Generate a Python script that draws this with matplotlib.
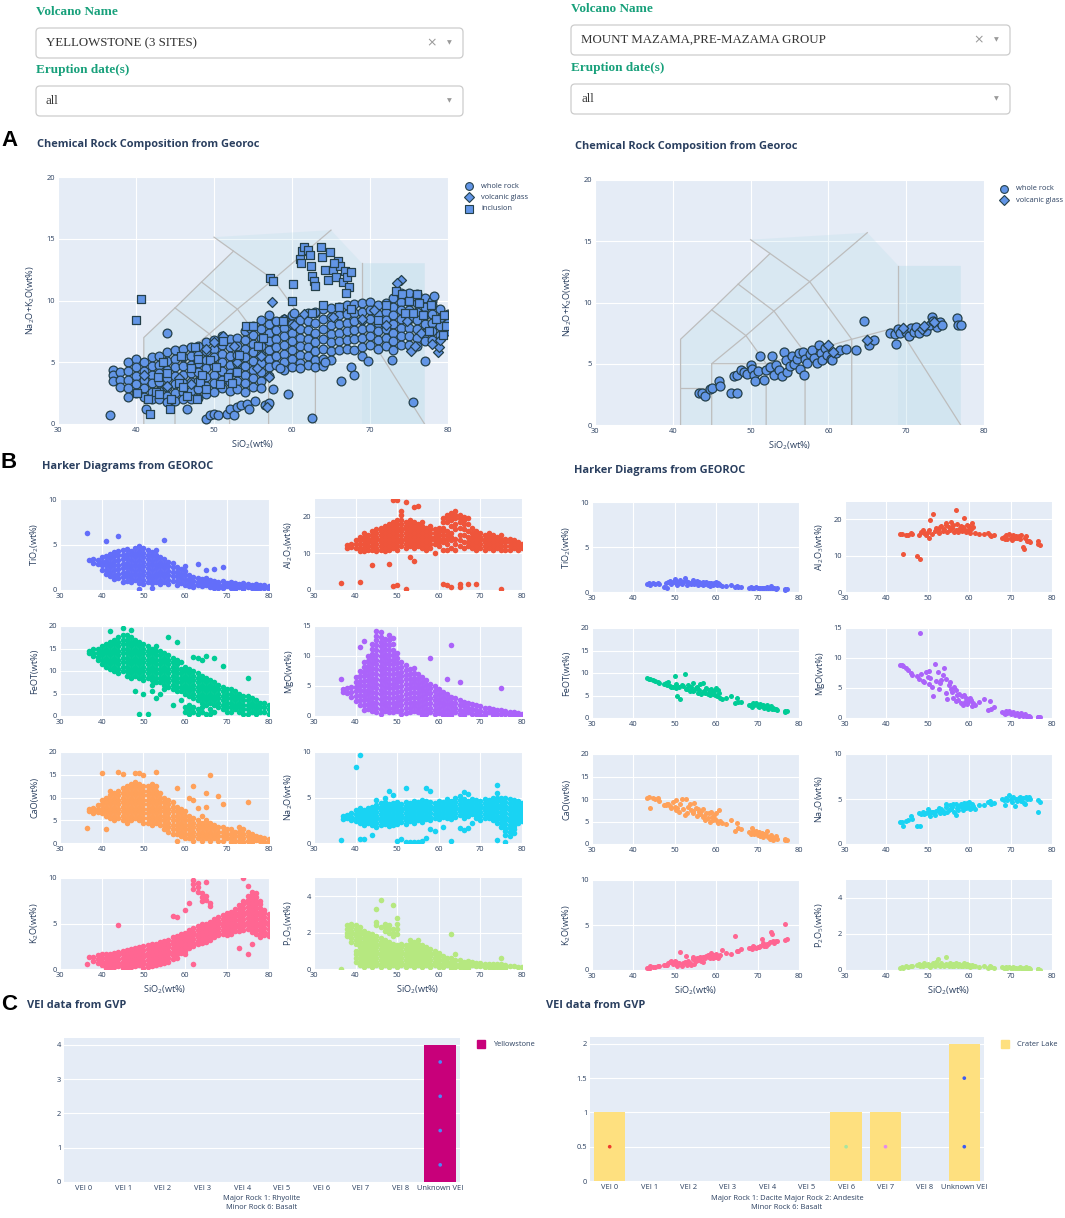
import matplotlib
matplotlib.use('Agg')
import matplotlib.pyplot as plt
from matplotlib.patches import FancyBboxPatch, Polygon
from matplotlib.lines import Line2D
from matplotlib.transforms import IdentityTransform

plt.rcParams['font.family'] = ['Open Sans', 'DejaVu Sans']
plt.rcParams['mathtext.fontset'] = 'custom'
plt.rcParams['mathtext.rm'] = 'Open Sans'
plt.rcParams['mathtext.it'] = 'Open Sans:italic'
plt.rcParams['mathtext.bf'] = 'Open Sans:bold'
plt.rcParams['mathtext.default'] = 'rm'

# ---------------- DATA ----------------
LEFT_VOLCANO = 'YELLOWSTONE (3 SITES)'
RIGHT_VOLCANO = 'MOUNT MAZAMA,PRE-MAZAMA GROUP'
ERUPTION = 'all'

# TAS field boundaries (SiO2, Na2O+K2O)
TAS_LINES = [
    [(41, 0), (41, 7), (45, 9.4), (48.4, 11.5), (52.5, 14), (50, 15.13)],
    [(52.5, 14), (57.6, 11.7), (65, 15.7)],
    [(41, 3), (45, 3)],
    [(45, 0), (45, 5), (52, 5), (57, 5.9), (63, 7), (69, 8), (77, 0)],
    [(45, 5), (49.4, 7.3), (53, 9.3), (57.6, 11.7), (63, 7), (63, 0)],
    [(45, 9.4), (49.4, 7.3), (52, 5), (52, 0)],
    [(48.4, 11.5), (53, 9.3), (57, 5.9), (57, 0)],
    [(69, 8), (69, 13)],
]
TAS_FIELD = [(41, 0), (41, 7), (45, 9.4), (48.4, 11.5), (52.5, 14), (50, 15.13),
             (65, 15.7), (69, 13), (77, 13), (77, 0)]
TAS_RHY = [(69, 0), (69, 13), (77, 13), (77, 0)]

# Yellowstone TAS: whole rock (SiO2 column -> Na2O+K2O values)
YS_WR = {37: [4.4, 4.0, 3.5], 38: [4.2, 3.6, 3.0], 39: [5.0, 4.3, 3.6, 2.9, 2.2],
         40: [5.3, 4.6, 3.9, 3.2, 2.5], 41: [5.0, 4.3, 3.6, 2.9, 2.2],
         42: [5.4, 4.7, 4.0, 3.3, 2.6, 2.0], 43: [5.5, 4.8, 4.1, 3.4, 2.7, 2.0],
         44: [5.8, 5.1, 4.4, 3.7, 3.0, 2.3, 1.8], 45: [6.0, 5.3, 4.6, 3.9, 3.2, 2.5, 1.9],
         46: [6.1, 5.4, 4.7, 4.0, 3.3, 2.6, 2.0], 47: [6.2, 5.5, 4.8, 4.1, 3.4, 2.7, 2.0],
         48: [6.3, 5.6, 4.9, 4.2, 3.5, 2.8, 2.1], 49: [6.6, 5.9, 5.2, 4.5, 3.8, 3.1, 2.4],
         50: [6.8, 6.1, 5.4, 4.7, 4.0, 3.3, 2.6], 51: [7.1, 6.4, 5.7, 5.0, 4.3, 3.6, 2.9],
         52: [6.9, 6.2, 5.5, 4.8, 4.1, 3.4, 2.7], 53: [7.0, 6.3, 5.6, 4.9, 4.2, 3.5, 2.8],
         54: [7.5, 6.8, 6.1, 5.4, 4.7, 4.0, 3.3, 2.6], 55: [7.9, 7.2, 6.5, 5.8, 5.1, 4.4, 3.7, 3.0],
         56: [8.4, 7.7, 7.0, 6.3, 5.6, 4.9, 4.2, 3.5, 2.9], 57: [8.8, 8.1, 7.4, 6.7, 6.0, 5.3, 4.6, 3.9],
         58: [8.3, 7.6, 6.9, 6.2, 5.5, 4.8], 59: [8.5, 7.8, 7.1, 6.4, 5.7, 5.0, 4.4],
         60: [8.8, 8.1, 7.4, 6.7, 6.0, 5.3, 4.6], 61: [8.4, 7.7, 7.0, 6.3, 5.6, 4.9],
         62: [9.0, 8.3, 7.6, 6.9, 6.2, 5.5, 4.8], 63: [9.0, 8.2, 7.4, 6.6, 5.9, 5.2, 4.6],
         64: [9.3, 8.5, 7.7, 6.9, 6.1, 5.3, 4.7], 65: [9.4, 8.7, 8.0, 7.3, 6.6, 5.9, 5.2],
         66: [9.5, 8.8, 8.1, 7.4, 6.7, 6.0], 67: [9.6, 8.9, 8.2, 7.5, 6.8, 6.1],
         68: [9.7, 9.0, 8.3, 7.6, 6.9, 6.0], 69: [9.8, 9.1, 8.4, 7.7, 7.0, 6.2, 5.5],
         70: [9.9, 9.2, 8.5, 7.8, 7.1, 6.4], 71: [9.6, 8.9, 8.2, 7.5, 6.8, 6.1],
         72: [9.8, 9.1, 8.4, 7.7, 7.0, 6.3], 73: [10.2, 9.5, 8.8, 8.1, 7.4, 6.7, 6.0],
         74: [10.6, 9.9, 9.2, 8.5, 7.8, 7.1, 6.4], 75: [10.6, 9.9, 9.2, 8.5, 7.8, 7.1, 6.4],
         76: [10.5, 9.8, 9.1, 8.4, 7.7, 7.0, 6.3], 77: [10.2, 9.5, 8.8, 8.1, 7.4, 6.7],
         78: [10.0, 9.6, 8.9, 8.2, 7.5, 6.8], 79: [9.3, 8.6, 7.9, 7.2], 80: [8.9, 8.2, 7.5]}
YS_WR_OUT = [(36.7, 0.7), (41.3, 1.2), (44.0, 7.4), (46.5, 1.2), (49.0, 0.4), (49.5, 0.7),
             (50.0, 0.8), (50.5, 0.7), (51.7, 0.8), (52.0, 1.2), (52.5, 0.7), (53.0, 1.4),
             (53.5, 1.5), (54.2, 1.6), (54.5, 1.2), (55.3, 1.9), (56.5, 1.5), (57.0, 1.7),
             (57.5, 2.8), (59.5, 2.4), (62.5, 0.5), (66.3, 3.5), (67.5, 4.6), (68.0, 4.0),
             (69.8, 5.1), (72.8, 5.2), (75.5, 1.8), (77.0, 5.1), (78.2, 10.4), (58.5, 4.5),
             (61.0, 4.5), (64.2, 5.0), (63.0, 9.1), (60.2, 9.0)]
YS_GLASS = [(57.4, 9.9), (60.2, 8.0), (74.0, 11.7), (73.5, 11.4), (75.3, 5.9), (75.8, 6.3),
            (78.7, 5.8), (78.8, 6.2), (56.8, 1.4), (51.2, 7.1), (50.0, 6.6), (54.5, 7.8),
            (59.0, 8.5), (69.0, 8.5), (72.0, 8.0), (74.8, 8.3), (76.5, 7.4), (78.0, 6.5),
            (79.0, 6.8), (45.5, 3.7), (47.0, 3.2), (53.0, 5.0), (55.5, 4.5), (57.0, 3.8),
            (56.0, 5.5), (65.2, 8.7), (70.5, 9.2), (49.0, 6.1), (52.5, 6.3), (44.0, 3.1),
            (41.0, 4.0), (61.5, 8.9)]
YS_INCL = [(40.6, 10.1), (40.0, 8.4), (41.8, 0.8), (44.3, 1.2), (40.1, 2.5), (41.5, 2.0),
           (42.5, 2.6), (42.8, 3.8), (43.5, 5.0), (44.0, 4.1), (45.5, 3.3), (45.8, 5.5),
           (46.5, 2.3), (47.0, 4.5), (47.5, 6.2), (48.2, 3.4), (48.5, 4.0), (49.0, 2.8),
           (49.5, 5.2), (50.2, 4.6), (50.8, 3.2), (51.2, 6.7), (51.8, 3.8), (52.3, 3.3),
           (53.2, 5.6), (54.1, 7.9), (55.0, 7.9), (55.6, 6.3), (56.3, 7.0), (57.2, 11.8),
           (57.6, 11.6), (60.1, 11.3), (60.0, 10.0), (61.0, 13.4), (61.3, 14.0), (61.5, 14.3),
           (61.2, 13.0), (62.0, 14.1), (62.3, 13.7), (62.4, 12.8), (62.6, 12.0), (62.8, 11.6),
           (63.0, 11.2), (63.7, 14.3), (63.9, 13.5), (64.2, 12.5), (64.6, 11.7), (64.9, 13.9),
           (65.3, 12.5), (65.6, 11.9), (65.9, 13.2), (66.2, 12.8), (66.5, 11.5), (66.8, 12.4),
           (67.1, 11.9), (67.3, 11.1), (67.6, 12.3), (66.9, 10.6), (65.4, 13.0), (64.0, 9.6),
           (66.0, 9.5), (67.5, 9.3), (72.0, 9.6), (73.3, 10.8), (74.1, 10.5), (75.0, 10.0),
           (75.5, 9.0), (76.0, 10.5), (76.8, 8.8), (77.5, 7.5), (78.5, 8.5), (79.3, 7.2),
           (79.5, 8.8), (74.5, 9.0), (76.3, 9.8), (46.0, 3.0), (47.8, 2.0), (44.5, 2.0),
           (43.0, 2.4), (48.0, 5.3), (53.0, 4.2), (58.9, 8.3), (62.5, 9.0), (71.0, 8.4),
           (77.8, 9.6), (79.8, 7.9)]

# Yellowstone Harker diagrams (SiO2 column -> oxide values)
YS_TIO2 = {36.5: [6.3], 37: [3.3], 38: [3.4, 3.0], 39: [3.3, 2.9], 40: [3.6, 3.1, 2.7, 2.2],
           41: [3.7, 3.2, 2.7, 2.2, 1.8, 5.4], 42: [4.0, 3.5, 3.0, 2.5, 2.0, 1.5],
           43: [4.2, 3.7, 3.2, 2.7, 2.2, 1.7, 1.2], 44: [4.3, 3.8, 3.3, 2.8, 2.3, 1.8, 1.3, 5.9],
           45: [4.4, 3.9, 3.4, 2.9, 2.4, 1.9, 1.4, 0.9], 46: [4.5, 4.0, 3.5, 3.0, 2.5, 2.0, 1.5, 1.0],
           47: [4.3, 3.8, 3.3, 2.8, 2.3, 1.8, 1.3, 0.9], 48: [4.6, 4.1, 3.6, 3.1, 2.6, 2.1, 1.6, 1.1],
           49: [4.8, 4.3, 3.8, 3.3, 2.8, 2.3, 1.8, 1.3, 0.8, 0.1],
           50: [4.6, 4.1, 3.6, 3.1, 2.6, 2.1, 1.6, 1.1, 0.7], 51: [4.4, 3.9, 3.4, 2.9, 2.4, 1.9, 1.4, 0.9],
           52: [4.2, 3.7, 3.2, 2.7, 2.2, 1.7, 1.2, 0.8, 0.2], 53: [4.4, 3.9, 3.4, 2.9, 2.4, 1.9, 1.4, 0.9],
           54: [3.6, 3.1, 2.6, 2.1, 1.6, 1.1, 0.7], 55: [3.4, 2.9, 2.4, 1.9, 1.4, 0.9, 5.5],
           56: [3.1, 2.6, 2.1, 1.6, 1.1, 0.7], 57: [3.0, 2.5, 2.0, 1.5, 1.0], 58: [2.5, 2.0, 1.5, 1.0, 0.6],
           59: [2.3, 1.8, 1.3, 0.8], 60: [2.6, 2.1, 1.6, 1.1, 0.6], 61: [1.6, 1.2, 0.8, 0.4],
           62: [1.4, 1.0, 0.6, 0.3], 63: [1.3, 0.9, 0.5, 2.9], 64: [1.2, 0.8, 0.4], 65: [1.3, 0.9, 0.5, 2.2],
           66: [1.1, 0.7, 0.3], 67: [1.0, 0.6, 0.2, 2.3], 68: [0.9, 0.5, 0.2], 69: [1.0, 0.6, 0.2, 2.5],
           70: [0.8, 0.4], 71: [0.9, 0.5, 0.2], 72: [0.8, 0.4, 0.1], 73: [0.7, 0.3], 74: [0.8, 0.4, 0.1],
           75: [0.7, 0.3], 76: [0.6, 0.2], 77: [0.7, 0.3, 0.1], 78: [0.5, 0.2], 79: [0.5, 0.2], 80: [0.4, 0.1]}
YS_AL2O3 = {36.5: [1.8], 38: [12.2, 11.5], 39: [12.6, 11.6], 40: [13.5, 12.5, 11.5],
            41: [14.5, 13.5, 12.5, 11.5, 10.5, 2.3], 42: [15.5, 14.5, 13.5, 12.5, 11.5, 10.5],
            43: [15.0, 14.0, 13.0, 12.0, 11.0], 44: [16.0, 15.0, 14.0, 13.0, 12.0, 11.0, 6.8],
            45: [16.5, 15.5, 14.5, 13.5, 12.5, 11.5, 10.5], 46: [17.0, 16.0, 15.0, 14.0, 13.0, 12.0, 11.0],
            47: [17.5, 16.5, 15.5, 14.5, 13.5, 12.5, 11.5, 10.5],
            48: [18.0, 17.0, 16.0, 15.0, 14.0, 13.0, 12.0, 11.0, 7.2],
            49: [18.5, 17.5, 16.5, 15.5, 14.5, 13.5, 12.5, 11.5, 1.1, 24.6],
            50: [19.0, 18.0, 17.0, 16.0, 15.0, 14.0, 13.0, 12.0, 11.0, 1.3, 24.4],
            51: [20.5, 19.0, 18.0, 17.0, 16.0, 15.0, 14.0, 13.0, 12.0, 21.5],
            52: [18.5, 17.5, 16.5, 15.5, 14.5, 13.5, 12.5, 11.5, 0.3, 24.0],
            53: [19.0, 18.0, 17.0, 16.0, 15.0, 14.0, 13.0, 12.0, 9.0],
            54: [18.5, 17.5, 16.5, 15.5, 14.5, 13.5, 12.5, 11.5, 7.9, 22.7],
            55: [18.0, 17.0, 16.0, 15.0, 14.0, 13.0, 12.0, 22.9],
            56: [18.5, 17.5, 16.5, 15.5, 14.5, 13.5, 12.5, 11.5],
            57: [17.0, 16.0, 15.0, 14.0, 13.0, 12.0, 10.8], 58: [17.5, 16.5, 15.5, 14.5, 13.5, 12.5, 11.5],
            59: [16.5, 15.5, 14.5, 13.5, 12.5, 10.0], 60: [17.0, 16.0, 15.0, 14.0, 13.0, 12.0],
            61: [19.5, 18.5, 17.0, 16.0, 15.0, 14.0, 13.0, 11.0, 1.7],
            62: [20.5, 19.5, 18.5, 16.0, 15.0, 14.0, 12.5, 11.0, 1.4],
            63: [21.0, 20.0, 19.0, 17.5, 15.5, 14.5, 13.5, 11.5, 0.7],
            64: [21.5, 20.5, 19.5, 18.0, 16.5, 14.0, 12.5, 11.0],
            65: [20.5, 19.5, 18.5, 17.0, 15.0, 13.5, 12.0, 1.5, 0.9],
            66: [20.0, 19.0, 18.0, 16.5, 15.0, 13.0, 11.5], 67: [19.5, 18.0, 16.0, 14.5, 13.0, 12.0, 1.6],
            68: [17.0, 15.5, 14.5, 13.5, 12.5, 11.5], 69: [16.0, 15.0, 14.0, 13.0, 12.0, 11.0, 1.5],
            70: [15.5, 14.5, 13.5, 12.5, 11.5], 71: [15.0, 14.0, 13.0, 12.0, 11.0],
            72: [15.5, 14.5, 13.5, 12.5, 11.5], 73: [15.0, 14.0, 13.0, 12.0, 11.0],
            74: [14.5, 13.5, 12.5, 11.5], 75: [15.0, 14.0, 13.0, 12.0, 11.0, 0.4],
            76: [14.0, 13.0, 12.0, 11.0], 77: [14.0, 13.0, 12.0, 11.0], 78: [13.5, 12.5, 11.5],
            79: [13.0, 12.0, 11.0], 80: [12.5, 11.5]}
YS_FEOT = {37: [14.5, 14.0], 38: [14.8, 14.0, 13.3], 39: [14.8, 14.0, 13.2, 12.5],
           40: [15.5, 14.5, 13.5, 12.5, 11.5], 41: [16.0, 15.0, 14.0, 13.0, 12.0, 11.0],
           42: [16.5, 15.5, 14.5, 13.5, 12.5, 11.5, 10.5, 19.0],
           43: [17.0, 16.0, 15.0, 14.0, 13.0, 12.0, 11.0, 10.0],
           44: [17.5, 16.5, 15.5, 14.5, 13.5, 12.5, 11.5, 10.5, 9.5],
           45: [18.0, 17.0, 16.0, 15.0, 14.0, 13.0, 12.0, 11.0, 10.0, 19.5],
           46: [18.0, 17.0, 16.0, 15.0, 14.0, 13.0, 12.0, 11.0, 10.0, 9.0],
           47: [17.5, 16.5, 15.5, 14.5, 13.5, 12.5, 11.5, 10.5, 9.5, 8.5, 19.2],
           48: [17.0, 16.0, 15.0, 14.0, 13.0, 12.0, 11.0, 10.0, 9.0, 5.5],
           49: [16.5, 15.5, 14.5, 13.5, 12.5, 11.5, 10.5, 9.5, 8.5, 0.5],
           50: [16.0, 15.0, 14.0, 13.0, 12.0, 11.0, 10.0, 9.0, 8.0, 5.0],
           51: [15.5, 14.5, 13.5, 12.5, 11.5, 10.5, 9.5, 8.5, 0.5],
           52: [15.0, 14.0, 13.0, 12.0, 11.0, 10.0, 9.0, 8.0, 7.0, 5.5],
           53: [15.5, 14.5, 13.5, 12.5, 11.5, 10.5, 9.5, 8.5, 7.5, 4.0],
           54: [14.5, 13.5, 12.5, 11.5, 10.5, 9.5, 8.5, 7.5, 5.0],
           55: [14.0, 13.0, 12.0, 11.0, 10.0, 9.0, 8.0, 7.0, 6.0],
           56: [13.5, 12.5, 11.5, 10.5, 9.5, 8.5, 7.5, 6.5, 17.5],
           57: [13.0, 12.0, 11.0, 10.0, 9.0, 8.0, 7.0, 6.0, 2.5],
           58: [12.5, 11.5, 10.5, 9.5, 8.5, 7.5, 6.5, 5.5, 16.5],
           59: [12.0, 10.5, 9.5, 8.5, 7.5, 6.5, 5.5, 3.5],
           60: [11.0, 10.0, 9.0, 8.0, 7.0, 6.0, 5.0, 2.0, 1.0],
           61: [10.5, 9.5, 8.5, 7.5, 6.5, 5.5, 4.5, 2.5, 1.5, 0.5],
           62: [13.2, 10.0, 9.0, 8.0, 7.0, 6.0, 5.0, 4.0, 2.0, 1.0],
           63: [13.0, 9.5, 8.5, 7.5, 6.5, 5.5, 4.5, 3.5, 1.5, 0.5],
           64: [12.5, 9.0, 8.0, 7.0, 6.0, 5.0, 4.0, 3.0, 2.0, 1.0],
           65: [13.4, 8.5, 7.5, 6.5, 5.5, 4.5, 3.5, 2.5, 0.5],
           66: [8.0, 7.0, 6.0, 5.0, 4.0, 3.0, 1.5, 0.5], 67: [13.0, 7.5, 6.5, 5.5, 4.5, 3.5, 2.5, 1.0],
           68: [7.0, 6.0, 5.0, 4.0, 3.0, 2.0], 69: [6.5, 5.5, 4.5, 3.5, 2.5, 1.5, 11.2],
           70: [6.0, 5.0, 4.0, 3.0, 2.0, 1.0], 71: [6.0, 5.0, 4.0, 3.0, 2.0, 1.0],
           72: [5.5, 4.5, 3.5, 2.5, 1.5], 73: [5.0, 4.0, 3.0, 2.0, 1.0], 74: [4.5, 3.5, 2.5, 1.5, 0.5],
           75: [4.5, 3.5, 2.5, 1.5, 0.5, 8.5], 76: [4.0, 3.0, 2.0, 1.0], 77: [3.5, 2.5, 1.5, 0.5],
           78: [3.0, 2.0, 1.0], 79: [3.0, 2.0, 1.0], 80: [2.5, 1.5, 0.5]}
YS_MGO = {36.5: [6.1], 37: [4.5, 4.0], 38: [4.6, 3.8], 39: [4.8, 4.0, 3.2],
          40: [6.5, 5.7, 4.9, 4.1, 3.3, 2.5], 41: [11.5, 7.5, 6.7, 5.9, 5.1, 4.3, 3.5, 2.7, 1.9],
          42: [12.5, 9.0, 8.2, 7.4, 6.6, 5.8, 5.0, 4.2, 3.4, 2.6, 1.8, 1.0],
          43: [10.0, 9.2, 8.4, 7.6, 6.8, 6.0, 5.2, 4.4, 3.6, 2.8, 2.0, 1.2],
          44: [12.0, 11.2, 10.4, 9.6, 8.8, 8.0, 7.2, 6.4, 5.6, 4.8, 4.0, 3.2, 2.4, 1.6, 0.8],
          45: [14.2, 13.4, 12.6, 11.8, 11.0, 10.2, 9.4, 8.6, 7.8, 7.0, 6.2, 5.4, 4.6, 3.8, 3.0, 2.2, 1.4, 0.6],
          46: [14.0, 13.2, 12.4, 11.6, 10.8, 10.0, 9.2, 8.4, 7.6, 6.8, 6.0, 5.2, 4.4, 3.6, 2.8, 2.0, 1.2, 0.4],
          47: [12.8, 12.0, 11.2, 10.4, 9.6, 8.8, 8.0, 7.2, 6.4, 5.6, 4.8, 4.0, 3.2, 2.4, 1.6, 0.8],
          48: [13.5, 12.6, 11.8, 11.0, 10.2, 9.4, 8.6, 7.8, 7.0, 6.2, 5.4, 4.6, 3.8, 3.0, 2.2, 1.4, 0.6],
          49: [13.0, 12.0, 11.0, 10.2, 9.4, 8.6, 7.8, 7.0, 6.2, 5.4, 4.6, 3.8, 3.0, 2.2, 1.4, 0.6],
          50: [10.5, 9.6, 8.8, 8.0, 7.2, 6.4, 5.6, 4.8, 4.0, 3.2, 2.4, 1.6, 0.8],
          51: [9.0, 8.2, 7.4, 6.6, 5.8, 5.0, 4.2, 3.4, 2.6, 1.8, 1.0, 0.3],
          52: [8.5, 7.7, 6.9, 6.1, 5.3, 4.5, 3.7, 2.9, 2.1, 1.3, 0.5],
          53: [7.8, 7.0, 6.2, 5.4, 4.6, 3.8, 3.0, 2.2, 1.4, 0.6],
          54: [8.0, 7.2, 6.4, 5.6, 4.8, 4.0, 3.2, 2.4, 1.6, 0.8],
          55: [7.0, 6.2, 5.4, 4.6, 3.8, 3.0, 2.2, 1.4, 0.6],
          56: [6.5, 5.7, 4.9, 4.1, 3.3, 2.5, 1.7, 0.9, 0.2], 57: [6.0, 5.2, 4.4, 3.6, 2.8, 2.0, 1.2, 0.4],
          58: [9.7, 5.4, 4.6, 3.8, 3.0, 2.2, 1.4, 0.6], 59: [5.0, 4.2, 3.4, 2.6, 1.8, 1.0, 0.3],
          60: [4.5, 3.7, 2.9, 2.1, 1.3, 0.5], 61: [4.0, 3.2, 2.4, 1.6, 0.8, 0.2],
          62: [6.1, 3.6, 2.8, 2.0, 1.2, 0.4], 63: [11.8, 3.2, 2.4, 1.6, 0.8, 0.1], 64: [3.0, 2.2, 1.4, 0.6],
          65: [5.6, 2.6, 1.8, 1.0, 0.3], 66: [2.4, 1.6, 0.8, 0.1], 67: [2.2, 1.4, 0.6], 68: [2.0, 1.2, 0.4],
          69: [1.8, 1.0, 0.3], 70: [1.6, 0.9, 0.2], 71: [1.4, 0.7, 0.1], 72: [1.3, 0.6], 73: [1.2, 0.5, 0.1],
          74: [1.0, 0.4], 75: [1.0, 0.4, 4.6], 76: [0.8, 0.3], 77: [0.7, 0.2], 78: [0.6, 0.1], 79: [0.5, 0.1],
          80: [0.3]}
YS_CAO = {36.5: [3.4], 37: [7.5, 7.0], 38: [7.8, 7.0, 6.5], 39: [8.3, 7.5, 6.8],
          40: [9.5, 8.5, 7.5, 6.5, 15.3], 41: [10.0, 9.0, 8.0, 7.0, 6.0, 3.0],
          42: [11.5, 10.5, 9.5, 8.5, 7.5, 6.5, 5.5], 43: [11.0, 10.0, 9.0, 8.0, 7.0, 6.0, 5.0],
          44: [11.5, 10.5, 9.5, 8.5, 7.5, 6.5, 5.5, 15.6],
          45: [12.0, 11.0, 10.0, 9.0, 8.0, 7.0, 6.0, 5.0, 15.1],
          46: [12.5, 11.5, 10.5, 9.5, 8.5, 7.5, 6.5, 5.5, 4.5],
          47: [13.0, 12.0, 11.0, 10.0, 9.0, 8.0, 7.0, 6.0, 5.0],
          48: [13.5, 12.5, 11.5, 10.5, 9.5, 8.5, 7.5, 6.5, 5.5, 15.3],
          49: [13.0, 12.0, 11.0, 10.0, 9.0, 8.0, 7.0, 6.0, 5.0, 15.3],
          50: [12.5, 11.5, 10.5, 9.5, 8.5, 7.5, 6.5, 5.5, 4.5, 14.9],
          51: [12.5, 11.5, 10.5, 9.5, 8.5, 7.5, 6.5, 5.5, 4.5],
          52: [13.0, 12.0, 11.0, 10.0, 9.0, 8.0, 7.0, 6.0, 5.0, 4.0],
          53: [12.5, 11.5, 10.5, 9.5, 8.5, 7.5, 6.5, 5.5, 4.5, 15.5],
          54: [11.0, 10.0, 9.0, 8.0, 7.0, 6.0, 5.0, 4.0], 55: [10.0, 9.0, 8.0, 7.0, 6.0, 5.0, 4.0, 3.0],
          56: [9.5, 8.5, 7.5, 6.5, 5.5, 4.5, 3.5, 2.5], 57: [9.0, 8.0, 7.0, 6.0, 5.0, 4.0, 3.0, 2.0],
          58: [8.0, 7.0, 6.0, 5.0, 4.0, 3.0, 2.0, 0.5, 12.1], 59: [7.5, 6.5, 5.5, 4.5, 3.5, 2.5, 1.5],
          60: [7.0, 6.0, 5.0, 4.0, 3.0, 2.0, 1.0], 61: [6.0, 5.0, 4.0, 3.0, 2.0, 1.0, 10.0],
          62: [5.5, 4.5, 3.5, 2.5, 1.5, 0.5, 9.5, 12.6], 63: [5.0, 4.0, 3.0, 2.0, 1.0, 7.8],
          64: [6.0, 4.5, 3.5, 2.5, 1.5, 0.5], 65: [5.0, 4.0, 3.0, 2.0, 1.0, 10.9, 7.9],
          66: [4.5, 3.5, 2.5, 1.5, 0.5, 14.9], 67: [4.0, 3.0, 2.0, 1.0], 68: [3.5, 2.5, 1.5, 0.5, 10.3],
          69: [3.5, 2.5, 1.5, 0.5, 8.6], 70: [3.0, 2.0, 1.0], 71: [3.0, 2.0, 1.0, 0.3], 72: [2.5, 1.5, 0.5],
          73: [3.5, 2.5, 1.5, 0.5], 74: [3.0, 2.0, 1.0, 0.3], 75: [2.5, 1.5, 0.5, 9.1], 76: [2.0, 1.0, 0.3],
          77: [1.5, 0.7], 78: [1.3, 0.5], 79: [1.0, 0.3], 80: [0.8, 0.2]}
YS_NA2O = {36.5: [0.3], 37: [3.0, 2.6], 38: [3.1, 2.7], 39: [3.3, 2.9, 2.5],
           40: [3.6, 3.2, 2.8, 2.4, 8.3], 41: [3.8, 3.4, 3.0, 2.6, 2.2, 9.7, 0.4],
           42: [3.6, 3.2, 2.8, 2.4, 2.0, 0.4], 43: [3.8, 3.4, 3.0, 2.6, 2.2],
           44: [4.0, 3.6, 3.2, 2.8, 2.4, 2.0, 0.9], 45: [4.7, 4.2, 3.8, 3.4, 3.0, 2.6, 2.2, 1.8],
           46: [4.4, 4.0, 3.6, 3.2, 2.8, 2.4, 2.0], 47: [5.0, 4.5, 4.1, 3.7, 3.3, 2.9, 2.5, 2.1],
           48: [5.7, 4.3, 3.9, 3.5, 3.1, 2.7, 2.3, 1.9], 49: [5.3, 4.4, 4.0, 3.6, 3.2, 2.8, 2.4, 2.0],
           50: [4.5, 4.1, 3.7, 3.3, 2.9, 2.5, 2.1, 0.2], 51: [4.3, 3.9, 3.5, 3.1, 2.7, 2.3, 0.4],
           52: [6.0, 4.5, 4.1, 3.7, 3.3, 2.9, 2.5, 2.1, 0.1], 53: [4.4, 4.0, 3.6, 3.2, 2.8, 2.4, 0.1],
           54: [4.6, 4.2, 3.8, 3.4, 3.0, 2.6, 2.2, 0.1], 55: [4.5, 4.1, 3.7, 3.3, 2.9, 2.5, 0.1],
           56: [4.7, 4.3, 3.9, 3.5, 3.1, 2.7, 2.3, 0.2], 57: [6.0, 4.6, 4.2, 3.8, 3.4, 3.0, 2.6, 0.5],
           58: [5.7, 4.5, 4.1, 3.7, 3.3, 2.9, 2.5, 1.5], 59: [4.4, 4.0, 3.6, 3.2, 2.8, 1.3],
           60: [4.6, 4.2, 3.8, 3.4, 3.0, 2.6], 61: [4.5, 4.1, 3.7, 3.3, 2.9, 1.8],
           62: [4.8, 4.4, 4.0, 3.6, 3.2, 2.8], 63: [4.6, 4.2, 3.8, 3.4, 3.0, 2.6, 0.2],
           64: [4.9, 4.5, 4.1, 3.7, 3.3, 2.9], 65: [5.2, 4.7, 4.3, 3.9, 3.5, 3.1, 1.7],
           66: [5.6, 4.8, 4.4, 4.0, 3.6, 3.2, 2.8, 1.4], 67: [5.4, 4.6, 4.2, 3.8, 3.4, 3.0, 1.6],
           68: [4.8, 4.4, 4.0, 3.6, 3.2, 2.2], 69: [4.7, 4.3, 3.9, 3.5, 3.1, 2.7],
           70: [4.6, 4.2, 3.8, 3.4, 3.0, 2.5], 71: [4.8, 4.4, 4.0, 3.6, 3.2, 2.8],
           72: [4.7, 4.3, 3.9, 3.5, 3.1, 2.7], 73: [4.9, 4.5, 4.1, 3.7, 3.3, 2.9, 2.5],
           74: [6.4, 5.5, 5.0, 4.6, 4.2, 3.8, 3.4, 3.0, 2.6, 2.2, 0.3],
           75: [5.0, 4.6, 4.2, 3.8, 3.4, 3.0, 2.6, 2.2, 1.8],
           76: [4.9, 4.5, 4.1, 3.7, 3.3, 2.9, 2.5, 2.1, 1.7, 1.3, 0.9, 0.1],
           77: [4.8, 4.4, 4.0, 3.6, 3.2, 2.8, 2.4, 2.0, 1.6, 1.2, 0.8],
           78: [4.7, 4.3, 3.9, 3.5, 3.1, 2.7, 2.3, 1.9, 1.5, 1.1],
           79: [4.6, 4.2, 3.8, 3.4, 3.0, 2.6, 2.2], 80: [4.4, 4.0, 3.6, 3.2, 2.8, 2.4]}
YS_K2O = {36.5: [0.5], 37: [1.3], 38: [1.3, 0.9], 39: [1.5, 1.1, 0.7], 40: [1.6, 1.2, 0.8, 0.4],
          41: [1.6, 1.2, 0.8, 0.4, 0.1], 42: [1.7, 1.3, 0.9, 0.5, 0.1], 43: [1.8, 1.4, 1.0, 0.6, 0.2],
          44: [1.9, 1.5, 1.1, 0.7, 0.3, 4.8], 45: [2.0, 1.6, 1.2, 0.8, 0.4, 0.1],
          46: [2.1, 1.7, 1.3, 0.9, 0.5, 0.1], 47: [2.2, 1.8, 1.4, 1.0, 0.6, 0.2],
          48: [2.3, 1.9, 1.5, 1.1, 0.7, 0.3], 49: [2.4, 2.0, 1.6, 1.2, 0.8, 0.4],
          50: [2.5, 2.1, 1.7, 1.3, 0.9, 0.5, 0.1], 51: [2.6, 2.2, 1.8, 1.4, 1.0, 0.6, 0.2],
          52: [2.7, 2.3, 1.9, 1.5, 1.1, 0.7, 0.3], 53: [2.8, 2.4, 2.0, 1.6, 1.2, 0.8, 0.4],
          54: [3.0, 2.6, 2.2, 1.8, 1.4, 1.0, 0.6], 55: [3.1, 2.7, 2.3, 1.9, 1.5, 1.1, 0.7],
          56: [3.2, 2.8, 2.4, 2.0, 1.6, 1.2, 0.8], 57: [3.5, 3.1, 2.7, 2.3, 1.9, 1.5, 1.1, 5.8],
          58: [3.6, 3.2, 2.8, 2.4, 2.0, 1.6, 1.2, 5.7], 59: [3.8, 3.4, 3.0, 2.6, 2.2, 1.8],
          60: [4.0, 3.6, 3.2, 2.8, 2.4, 2.0, 1.6, 6.5], 61: [7.3, 4.3, 3.9, 3.5, 3.1, 2.7, 2.3],
          62: [9.8, 9.3, 8.8, 4.5, 4.1, 3.7, 3.3, 2.9, 2.5, 0.5],
          63: [9.5, 9.0, 8.5, 4.7, 4.3, 3.9, 3.5, 3.1, 2.7],
          64: [8.4, 7.9, 7.5, 4.9, 4.5, 4.1, 3.7, 3.3, 2.9],
          65: [9.6, 8.0, 7.6, 5.0, 4.6, 4.2, 3.8, 3.4, 3.0],
          66: [7.3, 6.9, 5.2, 4.8, 4.4, 4.0, 3.6, 3.2], 67: [5.5, 5.1, 4.7, 4.3, 3.9, 3.5],
          68: [5.7, 5.3, 4.9, 4.5, 4.1, 3.7], 69: [5.9, 5.5, 5.1, 4.7, 4.3, 3.9],
          70: [6.1, 5.7, 5.3, 4.9, 4.5, 4.1, 3.7], 71: [6.3, 5.9, 5.5, 5.1, 4.7, 4.3, 3.9],
          72: [6.6, 6.2, 5.8, 5.4, 5.0, 4.6, 4.2], 73: [7.0, 6.6, 6.2, 5.8, 5.4, 5.0, 4.6, 4.2, 2.3],
          74: [7.5, 7.1, 6.7, 6.3, 5.9, 5.5, 5.1, 4.7, 4.3, 10.0],
          75: [8.0, 7.6, 7.2, 6.8, 6.4, 6.0, 5.6, 5.2, 4.8, 4.4, 9.1, 1.7],
          76: [8.5, 8.1, 7.7, 7.3, 6.9, 6.5, 6.1, 5.7, 5.3, 4.9, 4.5, 4.1, 2.8],
          77: [8.3, 7.9, 7.5, 7.1, 6.7, 6.3, 5.9, 5.5, 5.1, 4.7, 4.3, 3.9],
          78: [7.5, 7.1, 6.7, 6.3, 5.9, 5.5, 5.1, 4.7, 4.3, 3.9, 3.5],
          79: [6.5, 6.1, 5.7, 5.3, 4.9, 4.5, 4.1, 3.7], 80: [6.0, 5.6, 5.2, 4.8, 4.4, 4.0, 3.6]}
YS_P2O5 = {36.5: [0.0], 38: [2.4, 2.2, 2.0, 1.8], 39: [2.5, 2.3, 2.1, 1.9, 1.7, 1.5],
           40: [2.4, 2.2, 2.0, 1.8, 1.6, 1.4, 1.0, 0.8, 0.6, 0.4],
           41: [2.3, 2.1, 1.9, 1.7, 1.5, 1.2, 1.0, 0.8, 0.6, 0.4, 0.2],
           42: [2.1, 1.9, 1.7, 1.5, 1.3, 1.1, 0.9, 0.7, 0.5, 0.3, 0.1],
           43: [2.0, 1.8, 1.6, 1.4, 1.2, 1.0, 0.8, 0.6, 0.4, 0.2],
           44: [1.9, 1.7, 1.5, 1.3, 1.1, 0.9, 0.7, 0.5, 0.3, 0.1],
           45: [3.3, 2.6, 2.4, 1.8, 1.6, 1.4, 1.2, 1.0, 0.8, 0.6, 0.4, 0.2],
           46: [3.8, 2.3, 1.7, 1.5, 1.3, 1.1, 0.9, 0.7, 0.5, 0.3, 0.1],
           47: [2.5, 2.3, 2.1, 1.6, 1.4, 1.2, 1.0, 0.8, 0.6, 0.4, 0.2],
           48: [2.4, 2.2, 2.0, 1.5, 1.3, 1.1, 0.9, 0.7, 0.5, 0.3, 0.1],
           49: [3.5, 2.2, 2.0, 1.8, 1.4, 1.2, 1.0, 0.8, 0.6, 0.4, 0.2],
           50: [2.8, 2.5, 2.2, 1.9, 1.3, 1.1, 0.9, 0.7, 0.5, 0.3, 0.1],
           51: [1.4, 1.2, 1.0, 0.8, 0.6, 0.4, 0.2], 52: [1.3, 1.1, 0.9, 0.7, 0.5, 0.3, 0.1],
           53: [1.6, 1.4, 1.2, 1.0, 0.8, 0.6, 0.4, 0.2], 54: [1.5, 1.3, 1.1, 0.9, 0.7, 0.5, 0.3, 0.1],
           55: [1.6, 1.4, 1.2, 1.0, 0.8, 0.6, 0.4, 0.2], 56: [1.3, 1.1, 0.9, 0.7, 0.5, 0.3, 0.1],
           57: [1.2, 1.0, 0.8, 0.6, 0.4, 0.2], 58: [1.1, 0.9, 0.7, 0.5, 0.3, 0.1],
           59: [1.0, 0.8, 0.6, 0.4, 0.2], 60: [0.9, 0.7, 0.5, 0.3, 0.1], 61: [0.7, 0.5, 0.3, 0.1],
           62: [0.6, 0.4, 0.2], 63: [1.9, 0.6, 0.4, 0.2, 0.05], 64: [0.8, 0.5, 0.3, 0.1],
           65: [0.5, 0.3, 0.1], 66: [0.4, 0.2, 0.05], 67: [0.45, 0.25, 0.05], 68: [0.4, 0.2],
           69: [0.35, 0.15], 70: [0.35, 0.15], 71: [0.3, 0.1], 72: [0.3, 0.1], 73: [0.25, 0.05],
           74: [0.3, 0.1], 75: [0.6, 0.25, 0.05], 76: [0.2, 0.05], 77: [0.15], 78: [0.15], 79: [0.1],
           80: [0.1]}

# Mount Mazama samples (one entry per sample)
MZ_SIO2 = [43.4, 43.8, 44.1, 44.8, 45.1, 46.0, 46.1, 47.5, 48.2, 47.9,
           48.3, 48.8, 49.2, 49.6, 50.0, 50.2, 50.4, 50.6, 51.0, 51.2,
           51.7, 52.0, 52.5, 52.8, 53.0, 53.3, 53.6, 54.0, 54.3, 54.5,
           54.7, 55.0, 55.3, 55.6, 55.9, 56.2, 56.4, 56.8, 56.7, 57.0,
           57.3, 57.6, 57.9, 58.2, 58.5, 58.8, 59.0, 59.2, 59.5, 59.8,
           60.0, 60.3, 60.6, 60.5, 61.0, 61.5, 62.3, 63.5, 64.6, 65.0,
           65.2, 65.9, 67.9, 68.5, 68.7, 68.9, 69.2, 69.6, 70.0, 70.3,
           70.6, 71.0, 71.3, 71.6, 72.0, 72.3, 72.6, 73.0, 73.3, 73.5,
           73.6, 74.0, 74.4, 74.6, 76.5, 76.6, 77.1]
MZ_TIO2 = [0.9, 1.0, 0.8, 1.0, 0.9, 1.0, 0.9, 0.6, 0.4, 1.0,
           1.1, 1.2, 0.9, 1.1, 1.5, 1.0, 1.2, 0.8, 1.0, 1.3,
           0.9, 1.1, 1.6, 1.2, 0.8, 1.1, 1.0, 0.9, 1.3, 1.1,
           0.9, 1.0, 1.2, 0.8, 1.1, 1.0, 0.9, 0.8, 1.1, 1.0,
           0.9, 1.1, 0.8, 1.0, 0.7, 1.0, 0.9, 0.8, 1.0, 0.9,
           1.1, 0.8, 0.9, 1.0, 0.8, 0.7, 0.7, 0.8, 0.6, 0.7,
           0.6, 0.6, 0.5, 0.6, 0.4, 0.5, 0.5, 0.6, 0.4, 0.5,
           0.4, 0.5, 0.4, 0.5, 0.4, 0.6, 0.5, 0.4, 0.7, 0.4,
           0.5, 0.4, 0.3, 0.4, 0.3, 0.2, 0.3]
MZ_AL2O3 = [16.0, 16.0, 10.5, 15.8, 15.7, 16.2, 16.0, 10.0, 9.0, 15.6,
            16.4, 17.0, 16.3, 15.6, 16.6, 15.0, 17.2, 19.8, 16.0, 21.4,
            16.8, 17.5, 17.0, 16.2, 17.8, 18.2, 16.9, 17.4, 18.6, 19.0,
            16.5, 18.0, 17.1, 19.3, 17.6, 18.4, 16.4, 22.6, 17.0, 18.8,
            16.6, 17.4, 18.2, 16.8, 17.9, 20.3, 17.2, 16.5, 18.6, 17.0,
            18.2, 16.2, 18.9, 17.4, 17.8, 16.3, 16.0, 15.9, 16.3, 15.8,
            15.4, 15.7, 14.9, 15.2, 14.7, 15.6, 14.6, 16.1, 15.0, 14.3,
            15.8, 14.8, 15.5, 14.9, 15.3, 14.5, 15.6, 12.3, 11.8, 15.0,
            15.4, 14.1, 14.0, 13.8, 14.0, 13.2, 13.0]
MZ_FEOT = [8.8, 8.7, 8.6, 8.5, 8.2, 8.0, 7.7, 7.5, 7.3, 7.8,
           8.0, 7.2, 6.8, 7.0, 9.3, 6.6, 7.5, 5.0, 6.9, 4.3,
           7.4, 7.1, 9.8, 6.5, 6.4, 7.3, 6.0, 6.8, 7.8, 5.9,
           6.2, 6.6, 7.0, 5.6, 6.3, 7.5, 5.4, 5.8, 7.8, 6.1,
           5.6, 6.7, 5.3, 6.2, 5.1, 6.4, 5.8, 5.4, 6.1, 5.2,
           6.7, 4.9, 5.6, 6.3, 4.4, 4.3, 4.4, 4.9, 3.4, 4.4,
           3.6, 3.5, 2.8, 3.0, 2.5, 3.3, 2.9, 3.4, 2.6, 2.4,
           3.1, 2.7, 2.9, 2.3, 2.5, 2.8, 2.1, 2.4, 2.6, 2.0,
           2.2, 1.9, 2.1, 1.8, 1.6, 1.3, 1.5]
MZ_MGO = [8.9, 8.8, 8.6, 8.3, 8.0, 7.5, 7.2, 7.0, 14.1, 6.5,
          7.3, 6.2, 6.0, 7.7, 6.8, 7.9, 5.6, 6.6, 5.2, 3.6,
          9.0, 6.2, 7.6, 4.9, 5.8, 6.4, 7.2, 8.3, 6.5, 4.2,
          3.2, 5.5, 6.0, 4.8, 4.4, 3.4, 5.1, 2.9, 4.6, 3.8,
          3.0, 4.0, 2.5, 3.6, 2.1, 3.9, 2.6, 3.4, 2.3, 3.1,
          2.8, 3.3, 2.0, 3.0, 2.5, 2.2, 2.7, 3.2, 1.3, 2.9,
          1.5, 1.8, 1.0, 0.8, 0.7, 1.2, 0.9, 1.1, 0.6, 0.8,
          1.0, 0.5, 0.7, 0.9, 0.4, 0.6, 0.8, 0.3, 0.5, 0.6,
          0.4, 0.3, 0.4, 0.2, 0.2, 0.2, 0.1]
MZ_CAO = [10.3, 10.5, 7.9, 10.2, 10.0, 10.2, 9.6, 8.7, 8.9, 8.6,
          9.0, 8.5, 8.1, 9.3, 8.3, 9.8, 7.6, 8.0, 7.2, 9.0,
          9.9, 7.8, 6.4, 10.0, 6.8, 8.2, 8.8, 7.5, 6.9, 7.4,
          9.2, 8.0, 6.2, 7.8, 7.1, 6.6, 7.3, 6.1, 7.8, 6.3,
          5.4, 7.0, 5.8, 6.8, 5.0, 7.2, 6.0, 5.4, 6.5, 5.6,
          6.9, 5.1, 7.6, 4.6, 5.2, 4.7, 4.5, 5.3, 3.0, 4.6,
          3.5, 3.4, 2.6, 2.3, 3.5, 2.8, 2.2, 3.0, 2.0, 2.7,
          1.8, 2.4, 1.6, 2.2, 1.9, 2.9, 1.5, 1.2, 2.0, 1.6,
          0.8, 1.3, 1.7, 1.1, 1.1, 0.8, 1.0]
MZ_NA2O = [2.4, 2.5, 2.0, 2.6, 2.7, 3.1, 2.8, 2.0, 2.0, 3.4,
           3.3, 3.6, 3.3, 3.5, 3.9, 3.7, 3.4, 3.1, 3.6, 3.6,
           3.2, 3.7, 3.8, 4.0, 3.5, 3.9, 3.7, 3.4, 4.5, 4.1,
           3.6, 3.8, 4.3, 3.9, 4.1, 4.4, 3.6, 3.2, 4.5, 4.0,
           3.8, 4.2, 4.4, 4.1, 3.8, 4.6, 4.3, 4.0, 4.6, 4.2,
           4.7, 3.9, 4.4, 4.0, 4.2, 3.9, 4.3, 4.3, 4.7, 4.8,
           4.4, 4.6, 5.0, 4.9, 4.3, 5.1, 4.9, 5.4, 5.0, 4.7,
           5.2, 4.2, 5.0, 4.8, 5.1, 5.2, 4.8, 5.1, 4.6, 4.5,
           5.2, 5.0, 5.2, 5.0, 3.6, 4.9, 4.7]
MZ_K2O = [0.2, 0.1, 0.4, 0.3, 0.3, 0.5, 0.4, 0.6, 0.6, 0.6,
          0.8, 0.9, 1.0, 0.7, 1.0, 0.9, 0.7, 0.5, 0.8, 2.0,
          0.5, 0.8, 0.9, 1.6, 0.6, 1.0, 0.8, 0.6, 1.5, 1.2,
          0.7, 1.0, 1.3, 1.1, 1.3, 1.5, 1.0, 0.9, 1.5, 1.4,
          1.3, 1.6, 1.7, 1.4, 1.3, 1.9, 1.6, 1.3, 1.7, 1.5,
          1.8, 1.5, 1.6, 1.3, 1.7, 2.2, 1.9, 1.8, 3.8, 2.1,
          2.1, 2.3, 2.5, 2.5, 2.3, 2.7, 2.6, 2.5, 2.6, 2.6,
          2.7, 3.4, 3.0, 2.7, 2.7, 2.9, 2.9, 3.1, 4.2, 4.0,
          3.2, 3.0, 3.2, 3.2, 5.1, 3.3, 3.5]
MZ_P2O5 = [0.1, 0.15, 0.1, 0.2, 0.15, 0.2, 0.25, 0.3, 0.2, 0.35,
           0.3, 0.25, 0.4, 0.3, 0.35, 0.2, 0.3, 0.15, 0.3, 0.4,
           0.25, 0.45, 0.6, 0.3, 0.25, 0.4, 0.3, 0.2, 0.75, 0.35,
           0.3, 0.2, 0.4, 0.3, 0.25, 0.35, 0.2, 0.3, 0.4, 0.3,
           0.2, 0.35, 0.25, 0.3, 0.2, 0.4, 0.3, 0.25, 0.35, 0.2,
           0.3, 0.15, 0.3, 0.2, 0.25, 0.2, 0.15, 0.2, 0.1, 0.2,
           0.15, 0.1, 0.15, 0.1, 0.1, 0.15, 0.1, 0.15, 0.1, 0.05,
           0.15, 0.1, 0.1, 0.05, 0.1, 0.15, 0.1, 0.05, 0.1, 0.1,
           0.15, 0.05, 0.1, 0.05, 0.05, 0.05, 0.02]
MZ_GLASS_IDX = [50, 52, 59, 67, 74, 75, 80]

# VEI data
VEI_CATS = ['VEI 0', 'VEI 1', 'VEI 2', 'VEI 3', 'VEI 4', 'VEI 5', 'VEI 6', 'VEI 7', 'VEI 8', 'Unknown VEI']
YS_VEI = [0, 0, 0, 0, 0, 0, 0, 0, 0, 4]
YS_VEI_EVENTS = [('Unknown VEI', 0.5), ('Unknown VEI', 1.5), ('Unknown VEI', 2.5), ('Unknown VEI', 3.5)]
CL_VEI = [1, 0, 0, 0, 0, 0, 1, 1, 0, 2]
CL_VEI_EVENTS = [('VEI 0', 0.5), ('VEI 6', 0.5), ('VEI 7', 0.5), ('Unknown VEI', 0.5), ('Unknown VEI', 1.5)]
YS_ROCKS = 'Major Rock 1: Rhyolite\nMinor Rock 6: Basalt'
CL_ROCKS = 'Major Rock 1: Dacite Major Rock 2: Andesite\nMinor Rock 6: Basalt'

# ---------------- STYLE / LAYOUT ----------------
W, H = 1065, 1218
BG = '#E5ECF6'
NAVY = '#2a3f5f'
GREEN = '#17a07a'
TAS_FILL = '#6295E6'
TAS_EDGE = '#24404a'
HARKER_COLORS = ['#636EFA', '#EF553B', '#00CC96', '#AB63FA', '#FFA15A', '#19D3F3', '#FF6692', '#B6E880']
EVENT_COLORS_CL = ['#EE3B2C', '#A9E5A0', '#E58AEC', '#3E5BF2', '#3E5BF2']
TICK = 5.4
AXLAB = 6.6

fig = plt.figure(figsize=(W / 100, H / 100), dpi=100)
fig.patch.set_facecolor('white')


def add_ax(x0, x1, y0, y1):
    return fig.add_axes([x0 / W, 1 - y1 / H, (x1 - x0) / W, (y1 - y0) / H])


def ftext(x, y, s, **kw):
    fig.text(x / W, 1 - y / H, s, **kw)


def style(ax, xlim, ylim, xt, yt, ytl=None, xtl=None):
    ax.set_facecolor(BG)
    for sp in ax.spines.values():
        sp.set_visible(False)
    ax.set_xlim(*xlim)
    ax.set_ylim(*ylim)
    ax.set_xticks(xt)
    ax.set_yticks(yt)
    if ytl is not None:
        ax.set_yticklabels(ytl)
    if xtl is not None:
        ax.set_xticklabels(xtl)
    ax.grid(True, color='white', lw=0.8)
    ax.set_axisbelow(True)
    ax.tick_params(length=0, labelsize=TICK, labelcolor=NAVY, pad=2)


def side_label(ax, s, px_off, wpx):
    ax.text(-px_off / wpx, 0.5, s, transform=ax.transAxes, rotation=90,
            ha='center', va='center', fontsize=AXLAB, color=NAVY)


def bottom_label(ax, s, px_off, hpx):
    ax.text(0.5, -px_off / hpx, s, transform=ax.transAxes,
            ha='center', va='center', fontsize=AXLAB, color=NAVY)


def expand(d):
    xs, ys = [], []
    for x, vals in d.items():
        for v in vals:
            xs.append(x)
            ys.append(v)
    return xs, ys


# ---------------- DROPDOWNS ----------------
def dropdown(x0, x1, ytop, label, value, clear):
    ftext(x0, ytop, label, fontsize=9.5, fontweight='bold', color=GREEN,
          family='Liberation Serif', ha='left', va='center')
    by0, by1 = ytop + 16, ytop + 46
    box = FancyBboxPatch((x0, H - by1), x1 - x0, by1 - by0,
                         boxstyle='round,pad=0,rounding_size=4',
                         transform=IdentityTransform(), fc='white', ec='#cccccc', lw=0.9)
    fig.add_artist(box)
    ym = (by0 + by1) / 2
    ftext(x0 + 10, ym, value, fontsize=9.3, color='#333333', family='Liberation Serif',
          ha='left', va='center')
    if clear:
        ftext(x1 - 31, ym, '\u00d7', fontsize=9, color='#999999', family='DejaVu Sans',
              ha='center', va='center')
    ftext(x1 - 14, ym, '\u25bc', fontsize=4.5, color='#999999', family='DejaVu Sans',
          ha='center', va='center')


dropdown(36, 463, 12, 'Volcano Name', LEFT_VOLCANO, True)
dropdown(36, 463, 70, 'Eruption date(s)', ERUPTION, False)
dropdown(571, 1010, 9, 'Volcano Name', RIGHT_VOLCANO, True)
dropdown(571, 1010, 68, 'Eruption date(s)', ERUPTION, False)

# ---------------- PANEL LETTERS & TITLES ----------------
for letter, yy in [('A', 141), ('B', 463), ('C', 1004)]:
    ftext(1, yy, letter, fontsize=16, fontweight='bold', family='Liberation Sans',
          ha='left', va='center', color='black')

TITLE_KW = dict(fontsize=7.9, fontweight='bold', color=NAVY, ha='left', va='center')
ftext(37, 145, 'Chemical Rock Composition from Georoc', **TITLE_KW)
ftext(575, 147, 'Chemical Rock Composition from Georoc', **TITLE_KW)
ftext(42, 467, 'Harker Diagrams from GEOROC', **TITLE_KW)
ftext(574, 470, 'Harker Diagrams from GEOROC', **TITLE_KW)
ftext(27, 1006, 'VEI data from GVP', **TITLE_KW)
ftext(546, 1006, 'VEI data from GVP', **TITLE_KW)


# ---------------- TAS ----------------
def tas_panel(box, series, legend_x, legend_y):
    x0, x1, y0, y1 = box
    ax = add_ax(*box)
    style(ax, (30, 80), (0, 20), [30, 40, 50, 60, 70, 80], [0, 5, 10, 15, 20])
    ax.add_patch(Polygon(TAS_FIELD, closed=True, fc='#ADD8E6', alpha=0.2, lw=0, zorder=1))
    ax.add_patch(Polygon(TAS_RHY, closed=True, fc='#ADD8E6', alpha=0.15, lw=0, zorder=1))
    for seg in TAS_LINES:
        xs, ys = zip(*seg)
        ax.plot(xs, ys, color='#bdbdbd', lw=0.9, zorder=2)
    for (xs, ys, mk, s, _) in series:
        ax.scatter(xs, ys, s=s, marker=mk, c=TAS_FILL, edgecolors=TAS_EDGE,
                   linewidths=0.9, zorder=3)
    side_label(ax, 'Na$_2$O+K$_2$O(wt%)', 27, x1 - x0)
    bottom_label(ax, 'SiO$_2$(wt%)', 21, y1 - y0)
    for i, (_, _, mk, s, name) in enumerate(series):
        yy = legend_y + 11.3 * i
        fig.add_artist(Line2D([legend_x / W], [1 - yy / H], marker=mk,
                              ms=5.6 if mk != 'D' else 4.6, mfc=TAS_FILL, mec=TAS_EDGE,
                              mew=0.8, ls='none', transform=fig.transFigure))
        ftext(legend_x + 12, yy, name, fontsize=5.4, color=NAVY, ha='left', va='center')
    return ax


wx, wy = expand(YS_WR)
ox, oy = zip(*YS_WR_OUT)
gx, gy = zip(*YS_GLASS)
ix, iy = zip(*YS_INCL)
tas_panel((58, 448, 177, 424),
          [(wx + list(ox), wy + list(oy), 'o', 40, 'whole rock'),
           (gx, gy, 'D', 26, 'volcanic glass'),
           (ix, iy, 's', 34, 'inclusion')], 469, 186)

mz_tas = [n + k for n, k in zip(MZ_NA2O, MZ_K2O)]
mw_x = [x for i, x in enumerate(MZ_SIO2) if i not in MZ_GLASS_IDX]
mw_y = [y for i, y in enumerate(mz_tas) if i not in MZ_GLASS_IDX]
mg_x = [MZ_SIO2[i] for i in MZ_GLASS_IDX]
mg_y = [mz_tas[i] for i in MZ_GLASS_IDX]
tas_panel((595, 984, 180, 425),
          [(mw_x, mw_y, 'o', 42, 'whole rock'),
           (mg_x, mg_y, 'D', 28, 'volcanic glass')], 1004, 189)

# ---------------- HARKER ----------------
OXIDES = [('TiO$_2$(wt%)', (0, 10), [0, 5, 10]),
          ('Al$_2$O$_3$(wt%)', (0, 24.8), [0, 10, 20]),
          ('FeOT(wt%)', (0, 20), [0, 5, 10, 15, 20]),
          ('MgO(wt%)', (0, 15), [0, 5, 10, 15]),
          ('CaO(wt%)', (0, 20), [0, 5, 10, 15, 20]),
          ('Na$_2$O(wt%)', (0, 10), [0, 5, 10]),
          ('K$_2$O(wt%)', (0, 10), [0, 5, 10]),
          ('P$_2$O$_5$(wt%)', (0, 5), [0, 2, 4])]
YS_OX = [YS_TIO2, YS_AL2O3, YS_FEOT, YS_MGO, YS_CAO, YS_NA2O, YS_K2O, YS_P2O5]
MZ_OX = [MZ_TIO2, MZ_AL2O3, MZ_FEOT, MZ_MGO, MZ_CAO, MZ_NA2O, MZ_K2O, MZ_P2O5]

L_COLS = [(60, 268.5), (314, 522)]
L_ROWS = [(499, 590), (626, 716), (752, 843), (878, 969)]
R_COLS = [(592, 799), (845, 1052)]
R_ROWS = [(502, 592), (628, 718), (754, 844), (880, 970)]


def harker(cols, rows, getter, size):
    for k, (lab, ylim, yt) in enumerate(OXIDES):
        c, r = k % 2, k // 2
        x0, x1 = cols[c]
        y0, y1 = rows[r]
        ax = add_ax(x0, x1, y0, y1)
        style(ax, (30, 80), ylim, [30, 40, 50, 60, 70, 80], yt)
        xs, ys = getter(k)
        ax.scatter(xs, ys, s=size, c=HARKER_COLORS[k], linewidths=0, zorder=3)
        side_label(ax, lab, 25, x1 - x0)
        if r == 3:
            bottom_label(ax, 'SiO$_2$(wt%)', 21, y1 - y0)


harker(L_COLS, L_ROWS, lambda k: expand(YS_OX[k]), 16)
harker(R_COLS, R_ROWS, lambda k: (MZ_SIO2, MZ_OX[k]), 13)


# ---------------- VEI ----------------
def vei_panel(box, counts, events, ecolors, color, name, ymax, yt, ytl, rocks, legx):
    x0, x1, y0, y1 = box
    ax = add_ax(*box)
    pos = list(range(len(VEI_CATS)))
    style(ax, (-0.5, len(VEI_CATS) - 0.5), (0, ymax), pos, yt, ytl=ytl, xtl=VEI_CATS)
    ax.grid(False, axis='x')
    ax.bar(pos, counts, width=0.8, color=color, zorder=2)
    ex = [VEI_CATS.index(c) for c, _ in events]
    ey = [v for _, v in events]
    ax.scatter(ex, ey, s=7, c=ecolors, linewidths=0, zorder=3)
    ftext((x0 + x1) / 2, 1203, rocks, fontsize=5.4, color=NAVY, ha='center', va='center',
          linespacing=1.35)
    fig.add_artist(Line2D([legx / W], [1 - 1044 / H], marker='s', ms=5.3, mfc=color,
                          mec=color, ls='none', transform=fig.transFigure))
    ftext(legx + 12, 1044, name, fontsize=5.4, color=NAVY, ha='left', va='center')


vei_panel((64, 460, 1038, 1182), YS_VEI, YS_VEI_EVENTS, ['#4C86F5'] * 4, '#C8007A',
          'Yellowstone', 4.2, [0, 1, 2, 3, 4], ['0', '1', '2', '3', '4'], YS_ROCKS, 481)
vei_panel((590, 984, 1037, 1181), CL_VEI, CL_VEI_EVENTS, EVENT_COLORS_CL, '#FEE07F',
          'Crater Lake', 2.1, [0, 0.5, 1, 1.5, 2], ['0', '0.5', '1', '1.5', '2'], CL_ROCKS, 1005)

fig.savefig('out.png', dpi=100, facecolor='white')
